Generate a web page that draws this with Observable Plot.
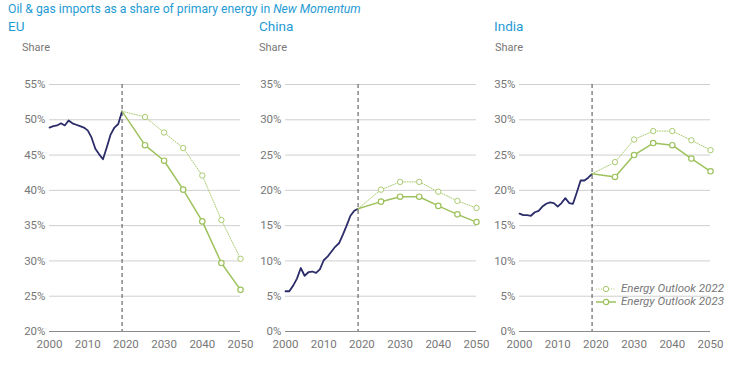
<!DOCTYPE html>
<html>
<head>
<meta charset="utf-8">
<script src="https://cdn.jsdelivr.net/npm/d3@7"></script>
<script src="https://cdn.jsdelivr.net/npm/@observablehq/plot@0.6"></script>
<style>
  html, body { margin: 0; padding: 0; background: #fff; }
  #wrap { position: relative; width: 753px; height: 379px; font-family: Roboto, "Noto Sans", sans-serif; overflow: hidden; }
  .title { position: absolute; left: 8px; top: 2px; font-size: 12.2px; color: #1f9bd4; white-space: nowrap; }
  .ptitle { position: absolute; top: 18px; font-size: 13.5px; color: #1f9bd4; }
  .unit { position: absolute; top: 41px; font-size: 11px; color: #777; }
  .panel { position: absolute; top: 70px; }
  .legend { position: absolute; left: 596px; top: 282px; font-size: 11.5px; font-style: italic; color: #777; line-height: 13px; }
  .legend div { display: flex; align-items: center; white-space: nowrap; }
  .legend svg { margin-right: 5px; }
</style>
</head>
<body>
<div id="wrap">
  <div class="title">Oil &amp; gas imports as a share of primary energy in <i>New Momentum</i></div>
  <div class="ptitle" style="left:8px">EU</div>
  <div class="ptitle" style="left:259px">China</div>
  <div class="ptitle" style="left:494px">India</div>
  <div class="unit" style="left:22px">Share</div>
  <div class="unit" style="left:259px">Share</div>
  <div class="unit" style="left:495px">Share</div>
  <div class="panel" id="p0" style="left:0px"></div>
  <div class="panel" id="p1" style="left:236px"></div>
  <div class="panel" id="p2" style="left:470px"></div>
  <div class="legend">
    <div><svg width="20" height="10"><line x1="0" y1="5" x2="20" y2="5" stroke="#aacb70" stroke-width="1" stroke-dasharray="1,1.5"/><circle cx="10" cy="5" r="2.7" fill="#fff" stroke="#aacb70" stroke-width="1"/></svg>Energy Outlook 2022</div>
    <div><svg width="20" height="10"><line x1="0" y1="5" x2="20" y2="5" stroke="#9dc25d" stroke-width="1.5"/><circle cx="10" cy="5" r="2.7" fill="#fff" stroke="#9dc25d" stroke-width="1.2"/></svg>Energy Outlook 2023</div>
  </div>
</div>
<script>
const histYears = d3.range(2000, 2020);
const projYears = [2019, 2025, 2030, 2035, 2040, 2045, 2050];

const euHist = [48.9, 49.1, 49.2, 49.5, 49.2, 49.9, 49.5, 49.3, 49.1, 48.9, 48.5, 47.5, 45.9, 45.1, 44.4, 46.1, 47.9, 48.9, 49.4, 51.2];
const euEO22 = [51.2, 50.4, 48.2, 46.0, 42.1, 35.8, 30.3];
const euEO23 = [51.2, 46.4, 44.2, 40.1, 35.6, 29.7, 25.9];

const chinaHist = [5.7, 5.7, 6.5, 7.5, 9.0, 7.9, 8.4, 8.5, 8.3, 8.8, 10.1, 10.6, 11.3, 12.0, 12.5, 13.7, 15.0, 16.4, 17.1, 17.4];
const chinaEO22 = [17.4, 20.1, 21.2, 21.2, 19.8, 18.5, 17.5];
const chinaEO23 = [17.4, 18.4, 19.1, 19.1, 17.8, 16.6, 15.5];

const indiaHist = [16.7, 16.5, 16.5, 16.4, 16.9, 17.1, 17.7, 18.1, 18.3, 18.2, 17.7, 18.2, 18.9, 18.2, 18.1, 19.7, 21.4, 21.4, 21.8, 22.35];
const indiaEO22 = [22.35, 24.0, 27.2, 28.4, 28.4, 27.1, 25.7];
const indiaEO23 = [22.35, 21.9, 25.0, 26.7, 26.4, 24.5, 22.7];

const yTicksEU = [20, 25, 30, 35, 40, 45, 50, 55];
const yTicksCI = [0, 5, 10, 15, 20, 25, 30, 35];
const xTicks = [2000, 2010, 2020, 2030, 2040, 2050];
const divider = [2019];

const NAVY = "#2b2c69";
const GREEN22 = "#aacb70";
const GREEN23 = "#9dc25d";

function panel(hist, eo22, eo23, yTicks) {
  const h = histYears.map((year, i) => ({year, v: hist[i]}));
  const p22 = projYears.map((year, i) => ({year, v: eo22[i]}));
  const p23 = projYears.map((year, i) => ({year, v: eo23[i]}));
  const lo = yTicks[0], hi = yTicks[yTicks.length - 1];
  return Plot.plot({
    width: 256, height: 291,
    marginLeft: 49, marginRight: 16, marginTop: 14, marginBottom: 30,
    style: {fontFamily: "Roboto, 'Noto Sans', sans-serif", fontSize: "11.5px", color: "#777", overflow: "visible", background: "transparent"},
    x: {domain: [2000, 2050], ticks: xTicks, tickFormat: d => String(d), tickSize: 0, tickPadding: 8, label: null},
    y: {domain: [lo, hi], ticks: yTicks, tickFormat: d => d + "%", tickSize: 0, tickPadding: 4, label: null},
    marks: [
      Plot.ruleY(yTicks.slice(1), {stroke: "#cfcfcf", strokeWidth: 1}),
      Plot.ruleY([lo], {stroke: "#8a8a8a", strokeWidth: 1.2}),
      Plot.ruleX(divider, {stroke: "#6a6a6a", strokeWidth: 1.2, strokeDasharray: "4,3"}),
      Plot.line(h, {x: "year", y: "v", stroke: NAVY, strokeWidth: 1.8}),
      Plot.line(p22, {x: "year", y: "v", stroke: GREEN22, strokeWidth: 1, strokeDasharray: "1,1.5"}),
      Plot.line(p23, {x: "year", y: "v", stroke: GREEN23, strokeWidth: 1.5}),
      Plot.dot(p22.slice(1), {x: "year", y: "v", r: 2.7, fill: "white", stroke: GREEN22, strokeWidth: 1}),
      Plot.dot(p23.slice(1), {x: "year", y: "v", r: 2.7, fill: "white", stroke: GREEN23, strokeWidth: 1.2})
    ]
  });
}

document.getElementById("p0").append(panel(euHist, euEO22, euEO23, yTicksEU));
document.getElementById("p1").append(panel(chinaHist, chinaEO22, chinaEO23, yTicksCI));
document.getElementById("p2").append(panel(indiaHist, indiaEO22, indiaEO23, yTicksCI));
</script>
</body>
</html>
